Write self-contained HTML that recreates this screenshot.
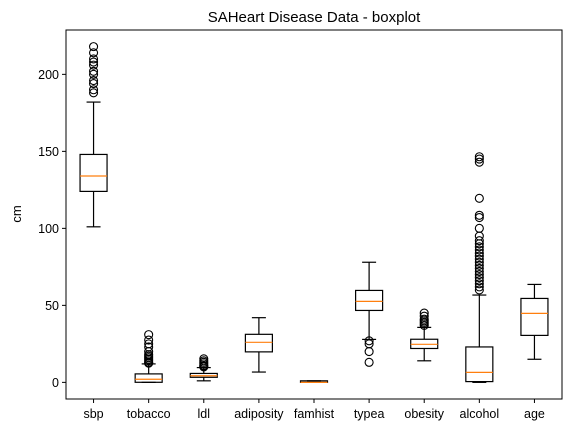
<!DOCTYPE html>
<html><head><meta charset="utf-8"><style>
body{margin:0;background:#fff;}
svg text{font-family:"Liberation Sans","DejaVu Sans",sans-serif;fill:#000;}
</style></head><body>
<svg id="chart" width="571" height="433" xmlns="http://www.w3.org/2000/svg">
<rect width="571" height="433" fill="#fff"/>
<text x="314" y="22" font-size="15" text-anchor="middle">SAHeart Disease Data - boxplot</text>
<text transform="translate(21,214) rotate(-90)" font-size="13" text-anchor="middle">cm</text>
<g id="plot"></g>
<rect x="66" y="30" width="496" height="369" fill="none" stroke="#000" stroke-width="1"/>
</svg>
<script>
const categories=["sbp","tobacco","ldl","adiposity","famhist","typea","obesity","alcohol","age"];
const q1=[124,0.05,3.3,19.8,0,46.7,22.0,0.5,30.5];
const medians=[134,2,4.3,26,0,52.6,24.7,6.5,44.8];
const q3=[148,5.5,5.8,31.2,1,59.7,28.0,23,54.5];
const whiskLow=[101,0,1,6.7,0,27.9,14,0,15];
const whiskHigh=[182,12,9.6,42,1,78,35.7,56.7,63.6];
const fliers=[
[188,190,194,196,200,202,206,208,210,214,218],
[12.5,13,14,15,16,17,18,20,23,25,27.5,31],
[10,10.5,11,12,13,14,15.3],
[],[],
[27,25,20,13],
[37,38,39,40,41,43,45],
[60,62,64,66,68,70,72,74,76,78,80,82,84,86,88,90,92,95,100,107,108.5,119.5,143,145,146.5],
[]];
const yTicks=[0,50,100,150,200];
const X0=66,X1=562,Y0=399,Y1=30,yMin=-10.8,yMax=228.8;
const xs=i=>X0+(i+0.5)*(X1-X0)/categories.length;
const ys=v=>Y0-(v-yMin)/(yMax-yMin)*(Y0-Y1);
const NS="http://www.w3.org/2000/svg";
const svg=document.getElementById('chart');
const plot=document.getElementById('plot');
function mk(tag,attrs,parent){const e=document.createElementNS(NS,tag);for(const k in attrs)e.setAttribute(k,attrs[k]);(parent||plot).appendChild(e);return e;}
yTicks.forEach(t=>{
 const l=mk('line',{x1:X0-4,x2:X0,y1:ys(t),y2:ys(t),stroke:'#000'});
 
 
 const tx=mk('text',{x:X0-7,y:ys(t)+4.5,'font-size':12.5,'text-anchor':'end'});tx.textContent=t;
 
 
});
const hw=13.5,cw=7;
categories.forEach((c,i)=>{
 const x=xs(i);
 const g=mk('g',{});
 
 
 const s={stroke:'#000','stroke-width':1.2,fill:'none'};
 mk('line',Object.assign({x1:x,x2:x,y1:ys(q1[i]),y2:ys(whiskLow[i])},s),g);
 mk('line',Object.assign({x1:x,x2:x,y1:ys(q3[i]),y2:ys(whiskHigh[i])},s),g);
 mk('line',Object.assign({x1:x-cw,x2:x+cw,y1:ys(whiskLow[i]),y2:ys(whiskLow[i])},s),g);
 mk('line',Object.assign({x1:x-cw,x2:x+cw,y1:ys(whiskHigh[i]),y2:ys(whiskHigh[i])},s),g);
 mk('rect',Object.assign({x:x-hw,y:ys(q3[i]),width:2*hw,height:Math.max(0.5,ys(q1[i])-ys(q3[i]))},s),g);
 mk('line',{x1:x-hw,x2:x+hw,y1:ys(medians[i]),y2:ys(medians[i]),stroke:'#ff7f0e','stroke-width':1.2},g);
 fliers[i].forEach(v=>{
  const p=mk('circle',{cx:x,cy:ys(v),r:4,fill:'none',stroke:'#000','stroke-width':1.1},g);
  
  
 });
 const t=mk('line',{x1:x,x2:x,y1:Y0,y2:Y0+4,stroke:'#000'});
 
 
 const tx=mk('text',{x:x,y:Y0+19,'font-size':12.5,'text-anchor':'middle'});tx.textContent=c;
 
 
});
</script>
</body></html>
